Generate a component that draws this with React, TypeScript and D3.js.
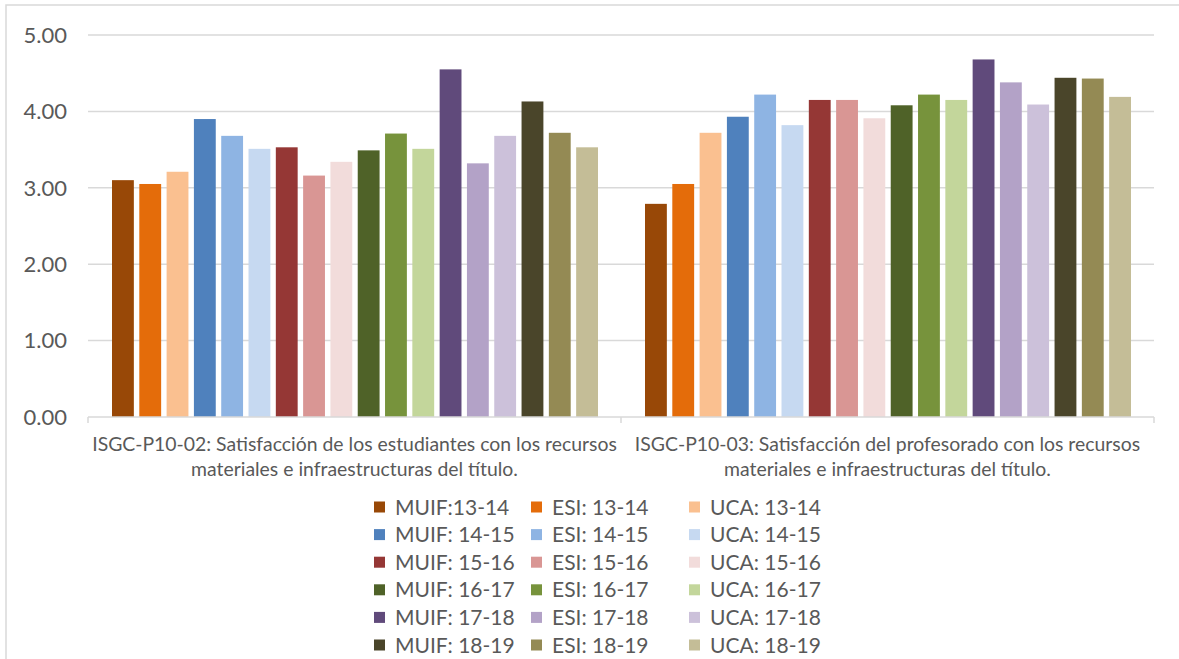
import * as React from 'react'
import * as d3 from 'd3'

const WIDTH = 1179
const HEIGHT = 659
const PLOT_LEFT = 88
const PLOT_RIGHT = 1154
const PLOT_TOP = 35
const PLOT_BOTTOM = 417
const TEXT_COLOR = '#595959'
const GRID_COLOR = '#D9D9D9'
const FONT = 'Lato, "Open Sans", sans-serif'

const categories = [
  [
    'ISGC-P10-02: Satisfacción de los estudiantes con los recursos',
    'materiales e infraestructuras del título.'
  ],
  [
    'ISGC-P10-03: Satisfacción del profesorado con los recursos',
    'materiales e infraestructuras del título.'
  ]
]

const seriesLabels = [
  'MUIF:13-14', 'ESI: 13-14', 'UCA: 13-14',
  'MUIF: 14-15', 'ESI: 14-15', 'UCA: 14-15',
  'MUIF: 15-16', 'ESI: 15-16', 'UCA: 15-16',
  'MUIF: 16-17', 'ESI: 16-17', 'UCA: 16-17',
  'MUIF: 17-18', 'ESI: 17-18', 'UCA: 17-18',
  'MUIF: 18-19', 'ESI: 18-19', 'UCA: 18-19'
]

const seriesColors = [
  '#984807', '#E46C0A', '#FAC090',
  '#4F81BD', '#8EB4E3', '#C6D9F1',
  '#953735', '#D99694', '#F2DCDB',
  '#4F6228', '#77933C', '#C3D69B',
  '#604A7B', '#B3A2C7', '#CCC1DA',
  '#4A452A', '#948A54', '#C4BD97'
]

// P10-02 estudiantes
const estudiantesValues = [
  3.1, 3.05, 3.21, 3.9, 3.68, 3.51, 3.53, 3.16, 3.34,
  3.49, 3.71, 3.51, 4.55, 3.32, 3.68, 4.13, 3.72, 3.53
]
// P10-03 profesorado
const profesoradoValues = [
  2.79, 3.05, 3.72, 3.93, 4.22, 3.82, 4.15, 4.15, 3.91,
  4.08, 4.22, 4.15, 4.68, 4.38, 4.09, 4.44, 4.43, 4.19
]

const yTicks = [0, 1, 2, 3, 4, 5]

const LEGEND_COL_X = [374, 531, 689]
const LEGEND_TOP = 507
const LEGEND_ROW = 27.6
const LEGEND_SWATCH = 11

export default function App() {
  const values = [estudiantesValues, profesoradoValues]

  const y = d3.scaleLinear().domain([0, 5]).range([PLOT_BOTTOM, PLOT_TOP])
  const xCat = d3
    .scaleBand<number>()
    .domain(d3.range(categories.length))
    .range([PLOT_LEFT, PLOT_RIGHT])
  const xSeries = d3
    .scaleBand<string>()
    .domain(seriesLabels)
    .range([24, xCat.bandwidth() - 23])
    .paddingInner(0.2)

  return (
    <div style={{ position: 'absolute', left: 0, top: 0 }}>
      <svg width={WIDTH} height={HEIGHT} style={{ display: 'block', background: '#fff' }}>
        <rect x={6} y={5} width={WIDTH + 10} height={HEIGHT + 10} fill="#fff" stroke={GRID_COLOR} strokeWidth={1.5} />

        {/* grid + y labels */}
        {yTicks.map(t => (
          <g key={t}>
            {t > 0 && (
              <line x1={PLOT_LEFT} x2={PLOT_RIGHT} y1={y(t)} y2={y(t)} stroke={GRID_COLOR} strokeWidth={1.5} />
            )}
            <text
              x={67}
              y={y(t)}
              dy="0.35em"
              textAnchor="end"
              fill={TEXT_COLOR}
              fontFamily={FONT}
              fontSize={22}
            >
              {d3.format('.2f')(t)}
            </text>
          </g>
        ))}

        {/* bars */}
        {categories.map((cat, ci) => (
          <g key={ci} transform={`translate(${xCat(ci)},0)`}>
            {values[ci].map((v, si) => (
              <rect
                key={si}
                x={xSeries(seriesLabels[si])}
                y={y(v)}
                width={xSeries.bandwidth()}
                height={y(0) - y(v)}
                fill={seriesColors[si]}
              />
            ))}
          </g>
        ))}

        {/* x axis */}
        <line x1={PLOT_LEFT} x2={PLOT_RIGHT} y1={y(0)} y2={y(0)} stroke={GRID_COLOR} strokeWidth={1.5} />
        {[...xCat.domain().map(d => xCat(d) as number), PLOT_RIGHT].map((xv, i) => (
          <line key={i} x1={xv} x2={xv} y1={y(0)} y2={y(0) + 6} stroke={GRID_COLOR} strokeWidth={1.5} />
        ))}
        {categories.map((lines, ci) => (
          <text
            key={ci}
            x={(xCat(ci) as number) + xCat.bandwidth() / 2}
            textAnchor="middle"
            fill={TEXT_COLOR}
            fontFamily={FONT}
            fontSize={19.4}
          >
            {lines.map((l, li) => (
              <tspan key={li} x={(xCat(ci) as number) + xCat.bandwidth() / 2} y={451 + li * 25}>
                {l}
              </tspan>
            ))}
          </text>
        ))}

        {/* legend */}
        {seriesLabels.map((label, i) => {
          const col = i % 3
          const row = Math.floor(i / 3)
          const cy = LEGEND_TOP + row * LEGEND_ROW
          return (
            <g key={label}>
              <rect
                x={LEGEND_COL_X[col]}
                y={cy - LEGEND_SWATCH / 2}
                width={LEGEND_SWATCH}
                height={LEGEND_SWATCH}
                fill={seriesColors[i]}
              />
              <text
                x={LEGEND_COL_X[col] + 21}
                y={cy}
                dy="0.36em"
                fill={TEXT_COLOR}
                fontFamily={FONT}
                fontSize={21}
              >
                {label}
              </text>
            </g>
          )
        })}
      </svg>
    </div>
  )
}
